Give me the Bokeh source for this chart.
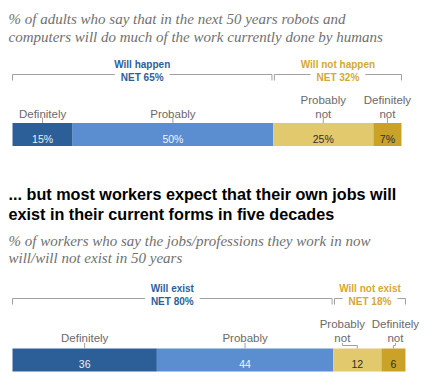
from bokeh.plotting import figure
from bokeh.models import Range1d
from bokeh.core.properties import value
from bokeh.embed import file_html
from bokeh.resources import INLINE

# --- data -------------------------------------------------------------
answer_labels = ["Definitely", "Probably", "Probably\nnot", "Definitely\nnot"]

robots_values = [15, 50, 25, 7]
robots_value_labels = ["15%", "50%", "25%", "7%"]
robots_groups = ["Will happen", "Will not happen"]
robots_nets = [65, 32]

jobs_values = [36, 44, 12, 6]
jobs_value_labels = ["36", "44", "12", "6"]
jobs_groups = ["Will exist", "Will not exist"]
jobs_nets = [80, 18]

subtitle_top = ["% of adults who say that in the next 50 years robots and",
                "computers will do much of the work currently done by humans"]
title_bottom = ["... but most workers expect that their own jobs will",
                "exist in their current forms in five decades"]
subtitle_bottom = ["% of workers who say the jobs/professions they work in now",
                   "will/will not exist in 50 years"]

# --- style ------------------------------------------------------------
SEG_COLORS = ["#2c5f98", "#5b8dd1", "#e2c96e", "#c9a227"]
VAL_COLORS = ["#e9eef6", "#f2f5fb", "#2f2f2f", "#2f2f2f"]
GROUP_COLORS = ["#2d5f9a", "#d4a933"]
LABEL_GREY = "#6a6a6a"
RULE_GREY = "#a0a0a0"
SANS = value("Liberation Sans")
SERIF = value("Liberation Serif")

W, H = 433, 383
K = 4.01          # pixels per percentage point
X0 = 12           # pixel where the bars start


def px(dx):
    """Convert a pixel distance to x data units."""
    return dx / K


p = figure(width=W, height=H, output_backend="svg", toolbar_location=None,
           x_range=Range1d(-X0 / K, (W - X0) / K), y_range=Range1d(H, 0),
           min_border=0, outline_line_color=None)
p.axis.visible = False
p.grid.visible = False
p.background_fill_color = "white"
p.border_fill_color = "white"


def text_lines(lines, x, baselines, size, font, color, style="normal"):
    p.text(x=[x] * len(lines), y=baselines, text=lines, text_font=font,
           text_font_size=size, text_color=color, text_font_style=style,
           text_align="left", text_baseline="alphabetic")


def panel(values, value_labels, groups, nets, bar_top, bar_h, label_base,
          tick_top, group_base, net_base, rule_y, label_shift):
    lefts, rights = [], []
    acc = 0
    for v in values:
        lefts.append(acc)
        acc += v
        rights.append(acc)
    centers = [(l + r) / 2 for l, r in zip(lefts, rights)]

    # stacked bar
    p.quad(left=lefts, right=rights, top=[bar_top] * 4,
           bottom=[bar_top + bar_h] * 4, fill_color=SEG_COLORS, line_color=None)
    p.text(x=centers, y=[bar_top + bar_h / 2 + 4] * 4, text=value_labels,
           text_color=VAL_COLORS, text_font=SANS, text_font_size="10.5px",
           text_align="center", text_baseline="alphabetic")

    # answer labels with leaders
    for i, lab in enumerate(answer_labels):
        lines = lab.split("\n")
        lx = centers[i] + px(label_shift[i])
        bases = [label_base - 14 * (len(lines) - 1 - j) for j in range(len(lines))]
        p.text(x=[lx] * len(lines), y=bases, text=lines, text_color=LABEL_GREY,
               text_font=SANS, text_font_size="11.5px", text_align="center",
               text_baseline="alphabetic")
        if label_shift[i] == 0:
            p.line([centers[i], centers[i]], [tick_top, bar_top], line_color=RULE_GREY,
                   line_width=1)
        else:
            mid = tick_top + 2.5
            p.line([lx, lx, centers[i], centers[i]], [tick_top, mid, mid, bar_top],
                   line_color=RULE_GREY, line_width=1)

    # NET brackets
    gap = 0.3
    spans = [(lefts[0], rights[1] - gap), (lefts[2] + gap, rights[3])]
    for (a, b), g, n, c in zip(spans, groups, nets, GROUP_COLORS):
        p.line([a, a, b, b], [rule_y + 6, rule_y, rule_y, rule_y + 6],
               line_color=RULE_GREY, line_width=1)
        m = (a + b) / 2
        p.text(x=[m], y=[net_base], text=[f"NET {n}%"], text_color=c,
               text_font=SANS, text_font_size="10px", text_font_style="bold",
               text_align="center", text_baseline="alphabetic",
               background_fill_color="white", padding=6)
        p.text(x=[m], y=[group_base], text=[g], text_color=c,
               text_font=SANS, text_font_size="10px", text_font_style="bold",
               text_align="center", text_baseline="alphabetic")


# upper section: robots and computers
text_lines(subtitle_top, px(8 - X0), [18, 36], "15px", SERIF, "#707070", "italic")
panel(robots_values, robots_value_labels, robots_groups, robots_nets,
      bar_top=122.5, bar_h=23, label_base=113, tick_top=117,
      group_base=63.5, net_base=77, rule_y=74, label_shift=[0, 0, 0, 0])

# lower section: workers' own jobs
text_lines(title_bottom, px(8 - X0), [193.5, 213.5], "16.2px", SANS, "#000000", "bold")
text_lines(subtitle_bottom, px(8 - X0), [240, 257.5], "15px", SERIF, "#707070", "italic")
panel(jobs_values, jobs_value_labels, jobs_groups, jobs_nets,
      bar_top=348, bar_h=23, label_base=337.5, tick_top=342.5,
      group_base=288, net_base=301, rule_y=298, label_shift=[0, 0, -15, 2])

open("out.html", "w").write(file_html(p, INLINE))
